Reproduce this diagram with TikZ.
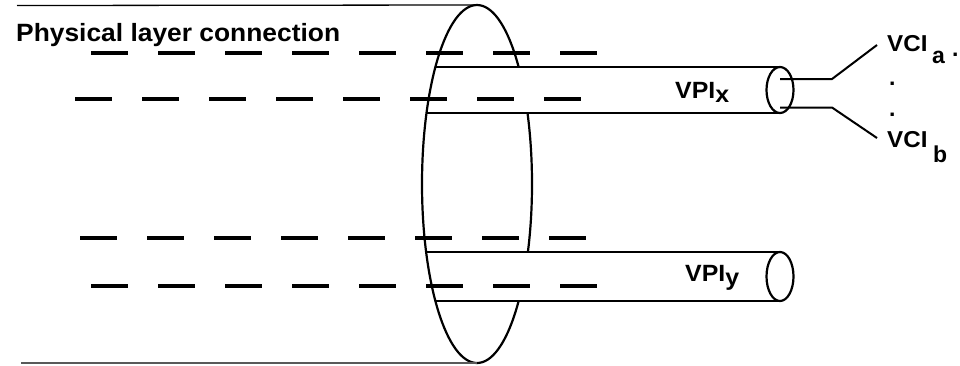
\documentclass[tikz,border=0pt]{standalone}
\usepackage{fontspec}
\setmainfont{Liberation Sans}
\begin{document}
\begin{tikzpicture}[x=1pt,y=-1pt,
  outline/.style={line width=2.2pt},
  tubeline/.style={line width=2pt},
  border/.style={line width=1.3pt},
  dashrow/.style={line width=3.2pt, dash pattern=on 37pt off 30pt},
  wire/.style={line width=2pt},
  lbl/.style={font=\bfseries\fontsize{23.5}{25}\selectfont, anchor=base west, inner sep=0pt},
  vcilbl/.style={font=\bfseries\fontsize{23}{25}\selectfont, anchor=base west, inner sep=0pt},
  ttl/.style={font=\bfseries\fontsize{25}{27}\selectfont, anchor=base west, inner sep=0pt}]
\useasboundingbox (0,0) rectangle (960,365);
% big ellipse (physical layer connection)
\coordinate (E) at (477,184);
\draw[outline] (E) ellipse [x radius=55pt, y radius=179pt];
\coordinate (Etop) at (477,5);
\coordinate (Ebot) at (477,363);
\coordinate (TL) at (17,5.5);
\coordinate (BL) at (21,363);
\draw[border] (TL) -- (Etop);
\draw[border, black!65] (BL) -- (Ebot);
% tube VPIx
\coordinate (XtL) at (435.4,67);
\coordinate (XbL) at (426.5,113);
\coordinate (XtR) at (780,67);
\coordinate (XbR) at (780,113);
\coordinate (Xend) at (780,90);
\fill[white] (477,67) rectangle (780,113);
\draw[tubeline] (XtL) -- (XtR);
\draw[tubeline] (XbL) -- (XbR);
\draw[outline] (Xend) ellipse [x radius=13.5pt, y radius=23pt];
% VCI wires
\coordinate (W1a) at (780,79);
\coordinate (W1b) at (832,79);
\coordinate (W1c) at (877,45);
\coordinate (W2a) at (780,107.5);
\coordinate (W2b) at (832,107.5);
\coordinate (W2c) at (877,138);
\draw[wire] (W1a) -- (W1b) -- (W1c);
\draw[wire] (W2a) -- (W2b) -- (W2c);
% tube VPIy
\coordinate (YtL) at (426.1,252);
\coordinate (YbL) at (435.4,301);
\coordinate (YtR) at (780,252);
\coordinate (YbR) at (780,301);
\coordinate (Yend) at (780,276.5);
\fill[white] (477,252) rectangle (780,301);
\draw[tubeline] (YtL) -- (YtR);
\draw[tubeline] (YbL) -- (YbR);
\draw[outline] (Yend) ellipse [x radius=13.5pt, y radius=24.5pt];
% dashed rows
\coordinate (D1a) at (91,53);  \coordinate (D1b) at (598,53);
\coordinate (D2a) at (75,99);  \coordinate (D2b) at (581,99);
\coordinate (D3a) at (80,238); \coordinate (D3b) at (587,238);
\coordinate (D4a) at (91,286); \coordinate (D4b) at (598,286);
\draw[dashrow] (D1a) -- (D1b);
\draw[dashrow] (D2a) -- (D2b);
\draw[dashrow] (D3a) -- (D3b);
\draw[dashrow] (D4a) -- (D4b);
% labels
\node[ttl] (title) at (16,41.7) {\scalebox{1.055}[1]{Physical layer connection}};
\node[lbl] (vpix) at (675,98) {\scalebox{1.06}[1]{VPI\raisebox{-4pt}{x}}};
\node[lbl] (vpiy) at (685,281.5) {\scalebox{1.06}[1]{VPI\raisebox{-3.5pt}{y}}};
\node[vcilbl] (vcia) at (887,51) {\scalebox{1.05}[1]{VCI}};
\node[vcilbl] (suba) at (932,63) {a};
\node[vcilbl] (dot0) at (952,56) {.};
\node[vcilbl] (dot1) at (889,85) {.};
\node[vcilbl] (dot2) at (889,116) {.};
\node[vcilbl] (vcib) at (887,147.5) {\scalebox{1.05}[1]{VCI}};
\node[vcilbl] (subb) at (933,162.5) {b};
\end{tikzpicture}
\end{document}
